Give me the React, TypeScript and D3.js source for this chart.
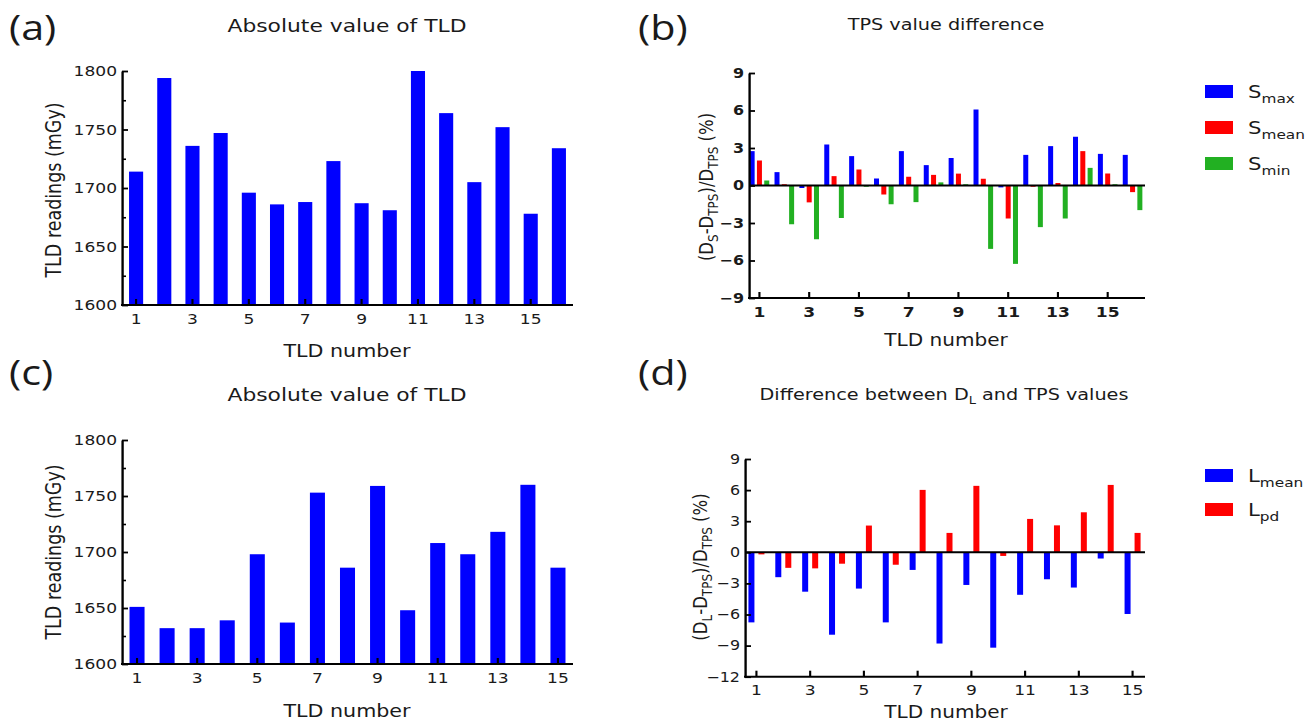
import React, { useEffect, useRef } from "react";
import * as d3 from "d3";

// the source figure is stretched sideways, so everything is drawn in a squeezed frame
const SX = 1.18;
const X = (px: number) => px / SX;

const FONT = "DejaVu Sans, Verdana, sans-serif";
const BLUE = "#0000ff";
const RED = "#ff0000";
const GREEN = "#22b022";
const INK = "#1a1a1a";

// (a) absolute value of TLD, 16 dosimeters
const tldNumbersA = [1, 2, 3, 4, 5, 6, 7, 8, 9, 10, 11, 12, 13, 14, 15, 16];
const readingsA = [1714, 1794, 1736, 1747, 1696, 1686, 1688, 1723, 1687, 1681, 1800, 1764, 1705, 1752, 1678, 1734];

// (c) absolute value of TLD, 15 dosimeters
const tldNumbersC = [1, 2, 3, 4, 5, 6, 7, 8, 9, 10, 11, 12, 13, 14, 15];
const readingsC = [1651, 1632, 1632, 1639, 1698, 1637, 1753, 1686, 1759, 1648, 1708, 1698, 1718, 1760, 1686];

const tldTicks = [1, 3, 5, 7, 9, 11, 13, 15];
const readingTicks = [1600, 1650, 1700, 1750, 1800];
const readingMinor = [1625, 1675, 1725, 1775];

// (b) TPS value difference (%)
const sMax = [2.75, 1.07, -0.2, 3.28, 2.35, 0.56, 2.75, 1.63, 2.2, 6.08, -0.15, 2.45, 3.15, 3.9, 2.53, 2.45];
const sMean = [2.0, 0.1, -1.35, 0.75, 1.28, -0.72, 0.7, 0.85, 0.95, 0.54, -2.64, -0.1, 0.2, 2.75, 0.96, -0.53];
const sMin = [0.4, -3.1, -4.3, -2.6, -0.1, -1.5, -1.33, 0.25, 0.1, -5.07, -6.27, -3.33, -2.64, 1.41, 0.1, -1.97];
const diffTicksB = [-9, -6, -3, 0, 3, 6, 9];

// (d) difference between D_L and TPS values (%)
const lMean = [-6.76, -2.4, -3.8, -7.95, -3.5, -6.76, -1.7, -8.8, -3.15, -9.2, -4.1, -2.6, -3.4, -0.6, -5.95];
const lPd = [-0.2, -1.5, -1.55, -1.1, 2.58, -1.2, 6.02, 1.87, 6.41, -0.35, 3.22, 2.6, 3.86, 6.5, 1.87];
const diffTicksD = [-12, -9, -6, -3, 0, 3, 6, 9];

const legendB = [
  { main: "S", sub: "max", color: BLUE },
  { main: "S", sub: "mean", color: RED },
  { main: "S", sub: "min", color: GREEN },
];
const legendD = [
  { main: "L", sub: "mean", color: BLUE },
  { main: "L", sub: "pd", color: RED },
];

type Sel = d3.Selection<SVGGElement, unknown, null, undefined>;

const styleAxis = (ax: Sel, size: number, bold = false) => {
  ax.attr("font-family", FONT).attr("font-size", size);
  ax.select(".domain").attr("stroke", "#000").attr("stroke-width", 2);
  ax.selectAll(".tick line").attr("stroke", "#000").attr("stroke-width", 1.8);
  ax.selectAll(".tick text")
    .attr("fill", INK)
    .attr("font-weight", bold ? "bold" : "normal");
};

// ticks point into the plot, as in the source
const leftAxis = (root: Sel, y: d3.ScaleLinear<number, number>, at: number, ticks: number[], size: number, bold = false) => {
  const ax = root
    .append("g")
    .attr("transform", `translate(${X(at)},0)`)
    .call(
      d3
        .axisLeft(y)
        .tickValues(ticks)
        .tickFormat(d3.format("d"))
        .tickSize(-X(6))
        .tickPadding(X(5))
        .tickSizeOuter(0)
    );
  styleAxis(ax, size, bold);
  return ax;
};

const bottomAxis = (root: Sel, x: d3.ScaleBand<number>, at: number, from: number, to: number, pad: number, bold = false) => {
  const ax = root
    .append("g")
    .attr("transform", `translate(0,${at})`)
    .call(d3.axisBottom(x).tickValues(tldTicks).tickSize(-6).tickPadding(pad).tickSizeOuter(0));
  styleAxis(ax, 14.5, bold);
  ax.select(".domain").attr("d", `M${X(from)},0H${X(to)}`);
  return ax;
};

const panelLetter = (root: Sel, x: number, y: number, s: string) => {
  root
    .append("text")
    .attr("x", X(x))
    .attr("y", y)
    .attr("font-family", "Open Sans, sans-serif")
    .attr("font-size", 35)
    .attr("fill", INK)
    .text(s);
};

const centerText = (root: Sel, x: number, y: number, s: string, size: number) => {
  return root
    .append("text")
    .attr("x", X(x))
    .attr("y", y)
    .attr("text-anchor", "middle")
    .attr("font-family", FONT)
    .attr("font-size", size)
    .attr("fill", INK)
    .text(s);
};

// rotated label, x is the baseline position in picture pixels
const sideLabel = (root: Sel, x: number, y: number, size: number) =>
  root
    .append("text")
    .attr("transform", `translate(${X(x)},${y}) rotate(-90)`)
    .attr("text-anchor", "middle")
    .attr("font-family", FONT)
    .attr("font-size", size)
    .attr("fill", INK);

const drawReadings = (
  root: Sel,
  nums: number[],
  values: number[],
  cfg: { top: number; bottom: number; labelY: number; titleY: number; yLabelY: number }
) => {
  const x = d3.scaleBand<number>().domain(nums).range([X(122), X(573)]);
  const y = d3.scaleLinear().domain([1600, 1800]).range([cfg.bottom, cfg.top]);
  const bw = x.step() * 0.5;

  root
    .append("g")
    .selectAll("rect")
    .data(values)
    .join("rect")
    .attr("x", (_, i) => x(nums[i])! + (x.step() - bw) / 2)
    .attr("y", (d) => y(d))
    .attr("width", bw)
    .attr("height", (d) => y(1600) - y(d))
    .attr("fill", BLUE);

  leftAxis(root, y, 122, readingTicks, 14.5);
  const minor = root
    .append("g")
    .attr("transform", `translate(${X(122)},0)`)
    .call(d3.axisLeft(y).tickValues(readingMinor).tickSize(-X(4)).tickFormat(() => "").tickSizeOuter(0));
  minor.select(".domain").remove();
  minor.selectAll(".tick line").attr("stroke", "#000").attr("stroke-width", 1.6);

  bottomAxis(root, x, cfg.bottom, 121, 573, 9);

  centerText(root, 347, cfg.titleY, "Absolute value of TLD", 18.5);
  centerText(root, 347, cfg.labelY, "TLD number", 17.5);
  sideLabel(root, 61, cfg.yLabelY, 17.5).text("TLD readings (mGy)");
};

const legend = (root: Sel, items: { main: string; sub: string; color: string }[], top: number, gap: number) => {
  items.forEach((it, i) => {
    const y0 = top + i * gap;
    root
      .append("rect")
      .attr("x", X(1205))
      .attr("y", y0)
      .attr("width", X(28))
      .attr("height", 13)
      .attr("fill", it.color);
    const t = root
      .append("text")
      .attr("x", X(1248))
      .attr("y", y0 + 13)
      .attr("font-family", FONT)
      .attr("font-size", 18)
      .attr("fill", INK);
    t.append("tspan").text(it.main);
    t.append("tspan").attr("font-size", 13).attr("dy", 5).text(it.sub);
  });
};

const diffLabel = (root: Sel, x: number, y: number, sub: string) => {
  const lab = sideLabel(root, x, y, 16.5);
  lab.append("tspan").text("(D");
  lab.append("tspan").attr("font-size", 12).attr("dy", 4).text(sub);
  lab.append("tspan").attr("dy", -4).text("-D");
  lab.append("tspan").attr("font-size", 12).attr("dy", 4).text("TPS");
  lab.append("tspan").attr("dy", -4).text(")/D");
  lab.append("tspan").attr("font-size", 12).attr("dy", 4).text("TPS");
  lab.append("tspan").attr("dy", -4).text(" (%)");
};

const App = () => {
  const svgRef = useRef<SVGSVGElement>(null);

  useEffect(() => {
    const svg = d3.select(svgRef.current);
    svg.selectAll("*").remove();
    const root = svg.append("g").attr("transform", `scale(${SX},1)`) as unknown as Sel;

    // ---------- (a) ----------
    panelLetter(root, 9, 40, "(a)");
    drawReadings(root, tldNumbersA, readingsA, { top: 71, bottom: 305, labelY: 357, titleY: 32, yLabelY: 190 });

    // ---------- (c) ----------
    panelLetter(root, 9, 385, "(c)");
    drawReadings(root, tldNumbersC, readingsC, { top: 440, bottom: 664, labelY: 717, titleY: 401, yLabelY: 552 });

    // ---------- (b) ----------
    panelLetter(root, 638, 40, "(b)");
    {
      const x = d3.scaleBand<number>().domain(tldNumbersA).range([X(747), X(1145)]);
      const y = d3.scaleLinear().domain([-9, 9]).range([298, 73]);
      const bw = X(5);
      const series = [
        { vals: sMax, color: BLUE, off: -7.3 },
        { vals: sMean, color: RED, off: 0 },
        { vals: sMin, color: GREEN, off: 7.3 },
      ];
      series.forEach((s) => {
        root
          .append("g")
          .selectAll("rect")
          .data(s.vals)
          .join("rect")
          .attr("x", (_, i) => x(tldNumbersA[i])! + x.step() / 2 + X(s.off) - bw / 2)
          .attr("y", (d) => y(Math.max(0, d)))
          .attr("width", bw)
          .attr("height", (d) => Math.abs(y(d) - y(0)))
          .attr("fill", s.color);
      });
      root
        .append("line")
        .attr("x1", X(749))
        .attr("x2", X(1145))
        .attr("y1", y(0))
        .attr("y2", y(0))
        .attr("stroke", "#000")
        .attr("stroke-width", 2);

      leftAxis(root, y, 749, diffTicksB, 13.5, true);
      bottomAxis(root, x, y(-9), 748, 1145, 9, true);

      centerText(root, 946, 30, "TPS value difference", 16.3);
      centerText(root, 946, 346, "TLD number", 17);
      diffLabel(root, 713, 187, "S");

      legend(root, legendB, 85, 36);
    }

    // ---------- (d) ----------
    panelLetter(root, 638, 385, "(d)");
    {
      const x = d3.scaleBand<number>().domain(tldNumbersC).range([X(743), X(1146)]);
      const y = d3.scaleLinear().domain([-12, 9]).range([676.7, 459]);
      const bw = X(6);
      const series = [
        { vals: lMean, color: BLUE, off: -5 },
        { vals: lPd, color: RED, off: 5 },
      ];
      series.forEach((s) => {
        root
          .append("g")
          .selectAll("rect")
          .data(s.vals)
          .join("rect")
          .attr("x", (_, i) => x(tldNumbersC[i])! + x.step() / 2 + X(s.off) - bw / 2)
          .attr("y", (d) => y(Math.max(0, d)))
          .attr("width", bw)
          .attr("height", (d) => Math.abs(y(d) - y(0)))
          .attr("fill", s.color);
      });
      root
        .append("line")
        .attr("x1", X(746))
        .attr("x2", X(1145))
        .attr("y1", y(0))
        .attr("y2", y(0))
        .attr("stroke", "#000")
        .attr("stroke-width", 2);

      leftAxis(root, y, 745, diffTicksD, 13.5);
      bottomAxis(root, x, y(-12), 744, 1145, 8);

      const title = centerText(root, 944, 400, "", 16.3);
      title.append("tspan").text("Difference between D");
      title.append("tspan").attr("font-size", 11).attr("dy", 4).text("L");
      title.append("tspan").attr("dy", -4).text(" and TPS values");
      centerText(root, 946, 718, "TLD number", 17);
      diffLabel(root, 707, 567, "L");

      legend(root, legendD, 469, 34);
    }
  }, []);

  return (
    <svg
      ref={svgRef}
      width={1309}
      height={724}
      style={{ position: "absolute", left: 0, top: 0, background: "#fff" }}
    />
  );
};

export default App;
